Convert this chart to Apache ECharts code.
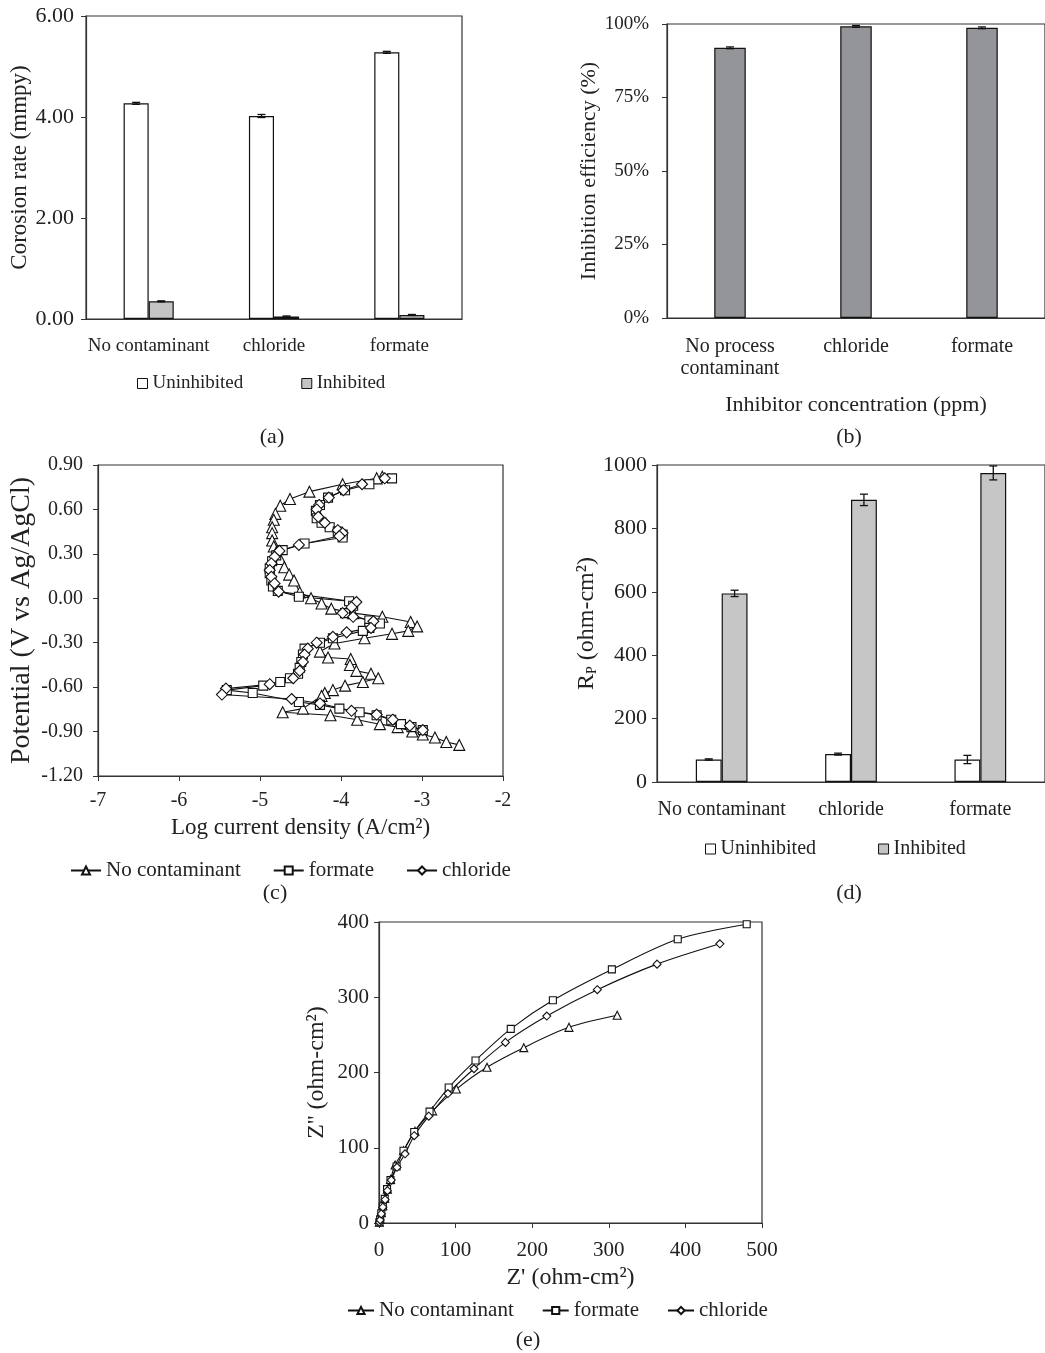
<!DOCTYPE html>
<html>
<head>
<meta charset="utf-8">
<script src="https://cdn.jsdelivr.net/npm/echarts@6/dist/echarts.min.js"></script>
<style>
html, body { margin: 0; padding: 0; background: #fff; }
#main { width: 1045px; height: 1353px; }
</style>
</head>
<body>
<div id="main"></div>
<script>
const FONT = 'Liberation Serif'

// (a) corrosion rate, mmpy
const casesA = ['No contaminant', 'chloride', 'formate']
const rateUninhibited = [4.27, 4.02, 5.28]
const rateUninhibitedErr = [0.02, 0.03, 0.02]
const rateInhibited = [0.35, 0.05, 0.08]
const rateInhibitedErr = [0.01, 0.01, 0.01]

// (b) inhibition efficiency, %
const casesB = ['No process\ncontaminant', 'chloride', 'formate']
const efficiency = [91.9, 99.2, 98.7]
const efficiencyErr = [0.3, 0.3, 0.3]

// (c) polarisation curves: [log current density, potential]
const polNoContaminant = [
	[-3.49, 0.82], [-3.56, 0.81], [-3.98, 0.77], [-4.39, 0.72], [-4.63, 0.67], [-4.75, 0.625],
	[-4.81, 0.57], [-4.83, 0.53], [-4.85, 0.48], [-4.85, 0.44], [-4.85, 0.39], [-4.83, 0.35],
	[-4.80, 0.31], [-4.75, 0.265], [-4.70, 0.21], [-4.64, 0.16], [-4.58, 0.12], [-4.51, 0.04],
	[-4.37, 0.0], [-4.24, -0.035], [-4.12, -0.07], [-3.85, -0.10], [-3.49, -0.125], [-3.14, -0.16],
	[-3.06, -0.19], [-3.17, -0.22], [-3.37, -0.24], [-3.71, -0.27], [-4.08, -0.305], [-4.26, -0.36],
	[-4.16, -0.40], [-3.88, -0.41], [-3.89, -0.45], [-3.81, -0.49], [-3.63, -0.51], [-3.54, -0.54],
	[-3.73, -0.565], [-3.95, -0.59], [-4.10, -0.62], [-4.20, -0.64], [-4.24, -0.66], [-4.47, -0.745],
	[-4.72, -0.77], [-4.13, -0.79], [-3.80, -0.82], [-3.52, -0.85], [-3.30, -0.87], [-3.12, -0.90],
	[-2.99, -0.92], [-2.84, -0.94], [-2.70, -0.97], [-2.54, -0.99],
]
const polFormate = [
	[-3.37, 0.81], [-3.65, 0.77], [-3.95, 0.73], [-4.16, 0.68], [-4.26, 0.63], [-4.31, 0.59],
	[-4.30, 0.54], [-4.24, 0.51], [-4.14, 0.48], [-4.04, 0.45], [-3.98, 0.43], [-3.98, 0.41],
	[-4.45, 0.37], [-4.72, 0.325], [-4.80, 0.29], [-4.85, 0.25], [-4.88, 0.20], [-4.88, 0.17],
	[-4.86, 0.12], [-4.84, 0.08], [-4.78, 0.05], [-4.52, 0.01], [-3.90, -0.02], [-3.85, -0.05],
	[-3.95, -0.10], [-3.65, -0.15], [-3.52, -0.17], [-3.65, -0.20], [-3.73, -0.22], [-4.10, -0.27],
	[-4.26, -0.30], [-4.45, -0.34], [-4.47, -0.38], [-4.49, -0.43], [-4.51, -0.47], [-4.53, -0.51],
	[-4.63, -0.54], [-4.75, -0.565], [-4.96, -0.59], [-5.41, -0.62], [-5.09, -0.64], [-4.52, -0.70],
	[-4.26, -0.72], [-4.02, -0.745], [-3.77, -0.77], [-3.56, -0.79], [-3.38, -0.82], [-3.26, -0.85],
	[-3.13, -0.87], [-2.99, -0.89],
]
const polChloride = [
	[-3.46, 0.81], [-3.74, 0.77], [-3.97, 0.73], [-4.15, 0.68], [-4.27, 0.63], [-4.30, 0.60],
	[-4.28, 0.55], [-4.20, 0.51], [-4.04, 0.46], [-3.98, 0.44], [-4.02, 0.42], [-4.52, 0.36],
	[-4.76, 0.32], [-4.82, 0.28], [-4.86, 0.235], [-4.88, 0.19], [-4.86, 0.145], [-4.82, 0.10],
	[-4.77, 0.045], [-3.81, -0.025], [-3.87, -0.06], [-3.98, -0.10], [-3.85, -0.125], [-3.60, -0.155],
	[-3.63, -0.20], [-3.93, -0.23], [-4.10, -0.26], [-4.30, -0.30], [-4.41, -0.34], [-4.45, -0.38],
	[-4.47, -0.43], [-4.51, -0.49], [-4.59, -0.54], [-4.88, -0.58], [-5.42, -0.61], [-5.47, -0.65],
	[-4.61, -0.68], [-4.26, -0.71], [-3.87, -0.76], [-3.56, -0.785], [-3.36, -0.82], [-3.15, -0.86],
	[-2.99, -0.89],
]

// (d) polarisation resistance, ohm-cm2
const casesD = ['No contaminant', 'chloride', 'formate']
const rpUninhibited = [71, 88, 71]
const rpUninhibitedErr = [2, 3, 13]
const rpInhibited = [595, 890, 975]
const rpInhibitedErr = [10, 18, 22]

// (e) Nyquist plots: [Z', Z'']
const nyqNoContaminant = [
	[0.5, 1], [1.5, 5], [3, 14], [5, 23], [7.5, 33], [11, 45], [15, 58], [21, 77], [32, 96],
	[47, 122], [70, 149], [101, 178], [141, 207], [189, 233], [248, 260], [311, 276],
]
const nyqFormate = [
	[0.5, 1], [1.5, 5], [3, 13], [5, 22], [7.5, 32], [10.5, 45], [15, 57], [23, 75], [32, 96],
	[46, 121], [66, 148], [91, 180], [126, 216], [172, 258], [227, 296], [304, 337], [390, 377], [480, 397],
]
const nyqChloride = [
	[0.5, 1], [1.5, 4], [3, 12], [5, 21], [8, 31], [11, 43], [16, 57], [23.5, 74], [34, 92],
	[46, 116], [65, 142], [90, 172], [124, 205], [165, 240], [219, 275], [285, 310], [363, 344], [445, 371],
]

const txt = (size) => ({ fontFamily: FONT, fontSize: size, color: '#222' })
const axisLine = { show: true, onZero: false, lineStyle: { color: '#333', width: 1.2 } }
const tick = { show: true, length: 5, lineStyle: { color: '#333' } }
const border = { show: true, borderColor: '#333', borderWidth: 1.2 }

function errorBars(xIdx, yIdx, values, errs, shift, cap) {
	return {
		type: 'custom',
		xAxisIndex: xIdx,
		yAxisIndex: yIdx,
		z: 10,
		silent: true,
		data: values.map((v, i) => [i, v - errs[i], v + errs[i]]),
		renderItem(params, api) {
			const lo = api.coord([api.value(0), api.value(1)])
			const hi = api.coord([api.value(0), api.value(2)])
			const x = lo[0] + shift * api.size([1, 0])[0]
			const style = { stroke: '#111', lineWidth: 1.3 }
			return {
				type: 'group',
				children: [
					{ type: 'line', shape: { x1: x, y1: lo[1], x2: x, y2: hi[1] }, style },
					{ type: 'line', shape: { x1: x - cap, y1: lo[1], x2: x + cap, y2: lo[1] }, style },
					{ type: 'line', shape: { x1: x - cap, y1: hi[1], x2: x + cap, y2: hi[1] }, style },
				],
			}
		},
	}
}

function barSeries(name, xIdx, data, color) {
	return {
		name,
		type: 'bar',
		xAxisIndex: xIdx,
		yAxisIndex: xIdx,
		data,
		barWidth: '20%',
		barGap: '0%',
		itemStyle: { color, borderColor: '#111', borderWidth: 1.2 },
	}
}

function curve(name, idx, data, symbol, size, smooth) {
	return {
		name,
		type: 'line',
		xAxisIndex: idx,
		yAxisIndex: idx,
		data,
		symbol,
		symbolSize: size,
		showAllSymbol: true,
		smooth: smooth || false,
		lineStyle: { color: '#111', width: 1.1 },
		itemStyle: { color: '#fff', borderColor: '#111', borderWidth: 1.1 },
	}
}

function panelLabel(text, x, y) {
	return {
		type: 'text',
		x,
		y,
		style: { text, fontFamily: FONT, fontSize: 22, fill: '#222', textAlign: 'center', textVerticalAlign: 'middle', align: 'center', verticalAlign: 'middle' },
	}
}

let chart = echarts.init(document.getElementById('main'))
let option = {
	animation: false,
	backgroundColor: '#fff',
	grid: [
		{ left: 86, top: 16, width: 376, height: 303, ...border },
		{ left: 667, top: 24, width: 378, height: 294, ...border },
		{ left: 98, top: 465, width: 405, height: 311, ...border },
		{ left: 657, top: 465, width: 395, height: 317, ...border },
		{ left: 379, top: 922, width: 383, height: 301, ...border },
	],
	xAxis: [
		{
			gridIndex: 0, type: 'category', data: casesA,
			axisLine, axisTick: { show: false },
			axisLabel: { ...txt(19), margin: 18, interval: 0 },
		},
		{
			gridIndex: 1, type: 'category', data: casesB,
			axisLine, axisTick: { show: false },
			axisLabel: { ...txt(20), margin: 18, lineHeight: 22, interval: 0 },
			name: 'Inhibitor concentration (ppm)', nameLocation: 'middle', nameGap: 76,
			nameTextStyle: txt(22),
		},
		{
			gridIndex: 2, type: 'value', min: -7, max: -2, interval: 1,
			axisLine, axisTick: tick, splitLine: { show: false },
			axisLabel: { ...txt(20), margin: 15 },
			name: 'Log current density (A/cm²)', nameLocation: 'middle', nameGap: 40,
			nameTextStyle: txt(23),
		},
		{
			gridIndex: 3, type: 'category', data: casesD,
			axisLine, axisTick: { show: false },
			axisLabel: { ...txt(20), margin: 18, interval: 0 },
		},
		{
			gridIndex: 4, type: 'value', min: 0, max: 500, interval: 100,
			axisLine, axisTick: tick, splitLine: { show: false },
			axisLabel: { ...txt(21), margin: 17 },
			name: "Z' (ohm-cm²)", nameLocation: 'middle', nameGap: 43,
			nameTextStyle: txt(24),
		},
	],
	yAxis: [
		{
			gridIndex: 0, type: 'value', min: 0, max: 6, interval: 2,
			axisLine, axisTick: tick, splitLine: { show: false },
			axisLabel: { ...txt(22), margin: 12, formatter: (v) => v.toFixed(2) },
			name: 'Corosion rate (mmpy)', nameLocation: 'middle', nameGap: 52,
			nameTextStyle: txt(23),
		},
		{
			gridIndex: 1, type: 'value', min: 0, max: 100, interval: 25,
			axisLine, axisTick: tick, splitLine: { show: false },
			axisLabel: { ...txt(19), margin: 18, formatter: '{value}%' },
			name: 'Inhibition efficiency (%)', nameLocation: 'middle', nameGap: 67,
			nameTextStyle: txt(22),
		},
		{
			gridIndex: 2, type: 'value', min: -1.2, max: 0.9, interval: 0.3,
			axisLine, axisTick: tick, splitLine: { show: false },
			axisLabel: { ...txt(20), margin: 15, formatter: (v) => v.toFixed(2) },
			name: 'Potential (V vs Ag/AgCl)', nameLocation: 'middle', nameGap: 62,
			nameTextStyle: txt(28),
		},
		{
			gridIndex: 3, type: 'value', min: 0, max: 1000, interval: 200,
			axisLine, axisTick: tick, splitLine: { show: false },
			axisLabel: { ...txt(22), margin: 10, formatter: (v) => String(v) },
			name: '{a|R}{b|P}{a| (ohm-cm²)}', nameLocation: 'middle', nameGap: 58,
			nameTextStyle: {
				...txt(24),
				rich: {
					a: { fontFamily: FONT, fontSize: 24, color: '#222' },
					b: { fontFamily: FONT, fontSize: 14, color: '#222', verticalAlign: 'bottom', padding: [10, 0, 0, 0] },
				},
			},
		},
		{
			gridIndex: 4, type: 'value', min: 0, max: 400, interval: 100,
			axisLine, axisTick: tick, splitLine: { show: false },
			axisLabel: { ...txt(21), margin: 10 },
			name: "Z'' (ohm-cm²)", nameLocation: 'middle', nameGap: 50,
			nameTextStyle: txt(24),
		},
	],
	legend: [
		{
			left: 137, top: 374, padding: 0, icon: 'rect', itemWidth: 10, itemHeight: 10, itemGap: 58,
			itemStyle: { borderColor: '#111', borderWidth: 1 },
			textStyle: txt(19),
			data: [{ name: 'Uninhibited' }, { name: 'Inhibited' }],
		},
		{
			left: 705, top: 839, padding: 0, icon: 'rect', itemWidth: 10, itemHeight: 10, itemGap: 62,
			itemStyle: { borderColor: '#111', borderWidth: 1 },
			textStyle: txt(20),
			data: [{ name: 'Uninhibited' }, { name: 'Inhibited' }],
		},
		{
			left: 70, top: 860, padding: 0, itemWidth: 30, itemHeight: 10, itemGap: 32,
			textStyle: txt(21),
			data: ['No contaminant', 'formate', 'chloride'],
		},
		{
			left: 347, top: 1300, padding: 0, itemWidth: 26, itemHeight: 9, itemGap: 28,
			textStyle: txt(21),
			data: ['No contaminant', 'formate', 'chloride'],
		},
	],
	graphic: [
		panelLabel('(a)', 272, 437),
		panelLabel('(b)', 849, 437),
		panelLabel('(c)', 275, 893),
		panelLabel('(d)', 849, 893),
		panelLabel('(e)', 528, 1340),
	],
	series: [
		barSeries('Uninhibited', 0, rateUninhibited, '#fff'),
		barSeries('Inhibited', 0, rateInhibited, '#c4c4c4'),
		errorBars(0, 0, rateUninhibited, rateUninhibitedErr, -0.1, 4),
		errorBars(0, 0, rateInhibited, rateInhibitedErr, 0.1, 4),

		{
			name: 'Efficiency',
			type: 'bar',
			xAxisIndex: 1,
			yAxisIndex: 1,
			data: efficiency,
			barWidth: '25%',
			itemStyle: { color: '#939598', borderColor: '#111', borderWidth: 1.2 },
		},
		errorBars(1, 1, efficiency, efficiencyErr, 0, 4),

		curve('No contaminant', 2, polNoContaminant, 'triangle', 11),
		curve('formate', 2, polFormate, 'rect', 9),
		curve('chloride', 2, polChloride, 'diamond', 11),

		barSeries('Uninhibited', 3, rpUninhibited, '#fff'),
		barSeries('Inhibited', 3, rpInhibited, '#c6c6c6'),
		errorBars(3, 3, rpUninhibited, rpUninhibitedErr, -0.1, 4),
		errorBars(3, 3, rpInhibited, rpInhibitedErr, 0.1, 4),

		curve('No contaminant', 4, nyqNoContaminant, 'triangle', 8, 0.3),
		curve('formate', 4, nyqFormate, 'rect', 7, 0.3),
		curve('chloride', 4, nyqChloride, 'diamond', 8, 0.3),
	],
}
chart.setOption(option)
</script>
</body>
</html>
